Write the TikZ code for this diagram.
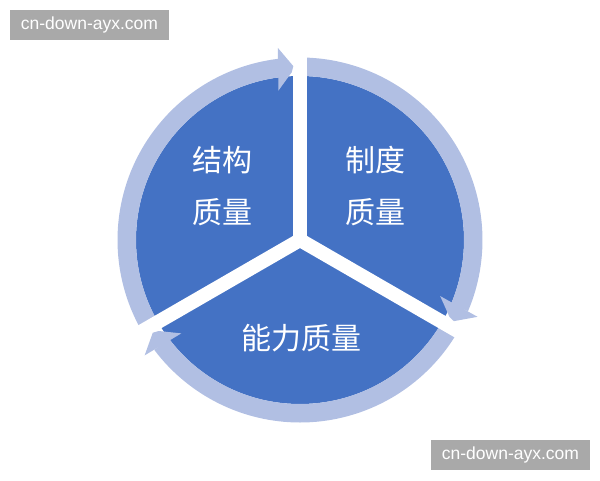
\documentclass[tikz,border=0pt]{standalone}
\usepackage{fontspec}
\newfontfamily\cjk{Noto Sans CJK SC}
\newfontfamily\wmfont{Liberation Sans}
\definecolor{pieblue}{HTML}{4472C4}
\definecolor{ringblue}{HTML}{B1BFE3}
\definecolor{stampgray}{HTML}{A9A9A9}

\begin{document}
\begin{tikzpicture}
	[
		x=1pt, y=1pt,
		piefill/.style = {fill=pieblue},
		ringpart/.style = {fill=ringblue},
		cut/.style = {draw=white, line width=14pt},
		lbl/.style = {text=white, align=center, inner sep=0pt, font=\cjk\fontsize{30}{52}\selectfont},
		stamp/.style = {fill=stampgray, text=white, minimum width=159pt, minimum height=30pt, inner sep=0pt, font=\wmfont\fontsize{17.5}{17.5}\selectfont},
	]
	\useasboundingbox (-300,-240) rectangle (300,240);

	\fill[piefill] (0,0) circle (164);
	\foreach \a/\b in {210/97, 90/-23, -30/-143}
		\fill[ringpart] (\a:182.5) arc[start angle=\a, end angle=\b, radius=182.5]
			-- (\b:164) arc[start angle=\b, end angle=\a, radius=164] -- cycle;
	\foreach \a in {90,-30,210}
		\draw[cut] (0,0) -- (\a:200);
	\foreach \t in {90,-30,210}
		\fill[ringpart] ({\t+6.6}:193.5) -- ({\t+2.2}:174) -- ({\t+2.8}:168) -- ({\t+8.2}:151) -- cycle;

	\node[lbl] (S) at (-77,54) {结构\\质量};
	\node[lbl] (Z) at (76,54) {制度\\质量};
	\node[lbl] (N) at (2,-98) {能力质量};

	\node[stamp] (W1) at (-210.5,215) {cn-down-ayx.com};
	\node[stamp] (W2) at (210.5,-215) {cn-down-ayx.com};

\end{tikzpicture}
\end{document}
